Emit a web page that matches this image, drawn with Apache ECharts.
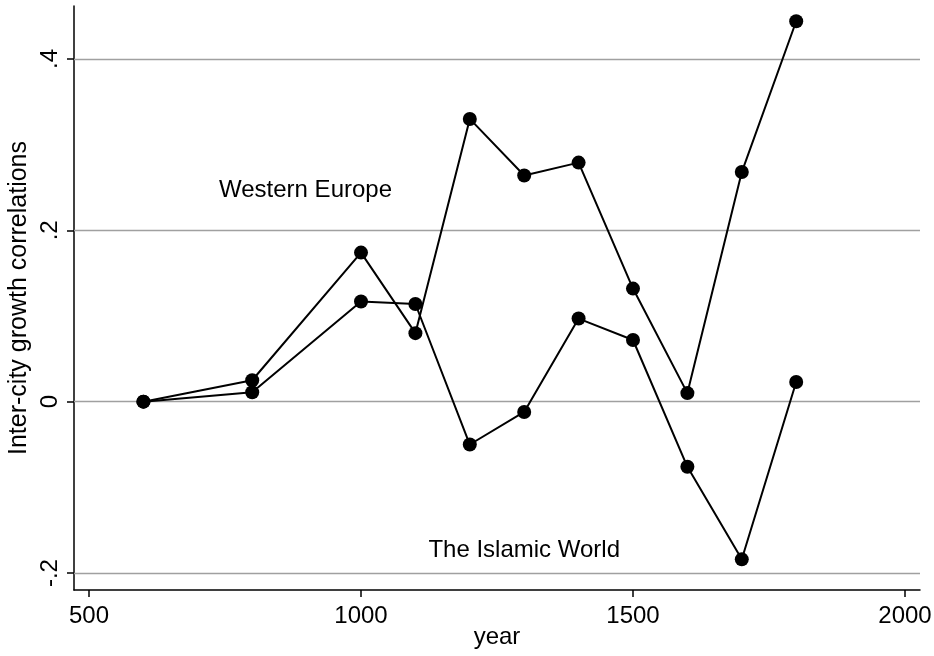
<!DOCTYPE html>
<html>
<head>
<meta charset="utf-8">
<script src="https://cdn.jsdelivr.net/npm/echarts@6/dist/echarts.min.js"></script>
<style>
html,body{margin:0;padding:0;background:#fff;}
#chart{width:934px;height:656px;}
</style>
</head>
<body>
<div id="chart"></div>
<script>
// ---- data ----
const years = [600, 800, 1000, 1100, 1200, 1300, 1400, 1500, 1600, 1700, 1800];
const westernEurope = [0, 0.025, 0.174, 0.080, 0.330, 0.264, 0.279, 0.132, 0.010, 0.268, 0.444];
const islamicWorld = [0, 0.011, 0.117, 0.114, -0.050, -0.012, 0.097, 0.072, -0.076, -0.184, 0.023];
const xTicks = [500, 1000, 1500, 2000];
const xTickLabels = ['500', '1000', '1500', '2000'];
const yTicks = [-0.2, 0, 0.2, 0.4];
const yTickLabels = ['-.2', '0', '.2', '.4'];
const annotations = [
  { text: 'Western Europe', x: 898, y: 0.247 },
  { text: 'The Islamic World', x: 1300, y: -0.174 }
];

const FONT = '"Liberation Sans", Arial, Helvetica, sans-serif';
const chart = echarts.init(document.getElementById('chart'), null, { renderer: 'canvas' });

function pairs(ys) { return years.map((x, i) => [x, ys[i]]); }

const seriesBase = {
  type: 'line',
  symbol: 'circle',
  symbolSize: 14,
  itemStyle: { color: '#000', opacity: 1 },
  lineStyle: { color: '#000', width: 2 },
  animation: false,
  z: 3
};

chart.setOption({
  animation: false,
  backgroundColor: '#fff',
  grid: { left: 74, right: 14, top: 6, bottom: 66, containLabel: false, outerBoundsMode: 'none' },
  xAxis: {
    type: 'value',
    min: 472.4, max: 2027.6,
    name: 'year',
    nameLocation: 'middle',
    nameGap: 35,
    nameMoveOverlap: false,
    nameTextStyle: { color: '#000', fontSize: 24, fontFamily: FONT },
    axisLine: { show: true, onZero: false, lineStyle: { color: '#000', width: 1.5 } },
    axisTick: { show: true, length: 7, customValues: xTicks, lineStyle: { color: '#000', width: 1.5 } },
    axisLabel: {
      customValues: xTicks,
      color: '#000', fontSize: 24, fontFamily: FONT, margin: 14,
      formatter: v => xTickLabels[xTicks.indexOf(v)] ?? ''
    },
    splitLine: { show: false }
  },
  yAxis: {
    type: 'value',
    min: -0.2198, max: 0.4618,
    name: 'Inter-city growth correlations',
    nameLocation: 'middle',
    nameGap: 42,
    nameMoveOverlap: false,
    nameTextStyle: { color: '#000', fontSize: 25, fontFamily: FONT },
    axisLine: { show: true, onZero: false, lineStyle: { color: '#000', width: 1.5 } },
    axisTick: { show: true, length: 7, customValues: yTicks, lineStyle: { color: '#000', width: 1.5 } },
    axisLabel: {
      customValues: yTicks,
      rotate: 90,
      color: '#000', fontSize: 24, fontFamily: FONT, margin: 12,
      formatter: v => {
        const i = yTicks.findIndex(t => Math.abs(t - v) < 1e-9);
        return i >= 0 ? yTickLabels[i] : '';
      }
    },
    splitLine: { show: false }
  },
  series: [
    Object.assign({}, seriesBase, {
      name: 'Western Europe',
      data: pairs(westernEurope),
      markLine: {
        silent: true,
        symbol: ['none', 'none'],
        label: { show: false },
        lineStyle: { color: '#a0a0a0', width: 1.3, type: 'solid' },
        data: yTicks.map(t => ({ yAxis: t })),
        z: 1
      }
    }),
    Object.assign({}, seriesBase, {
      name: 'The Islamic World',
      data: pairs(islamicWorld)
    }),
    {
      type: 'scatter',
      symbolSize: 0,
      silent: true,
      itemStyle: { opacity: 1, color: '#000' },
      data: annotations.map(a => ({ value: [a.x, a.y], name: a.text })),
      label: {
        show: true, position: 'inside',
        formatter: p => p.name,
        color: '#000', opacity: 1, fontSize: 24, fontFamily: FONT
      },
      z: 4
    }
  ]
});
</script>
</body>
</html>
